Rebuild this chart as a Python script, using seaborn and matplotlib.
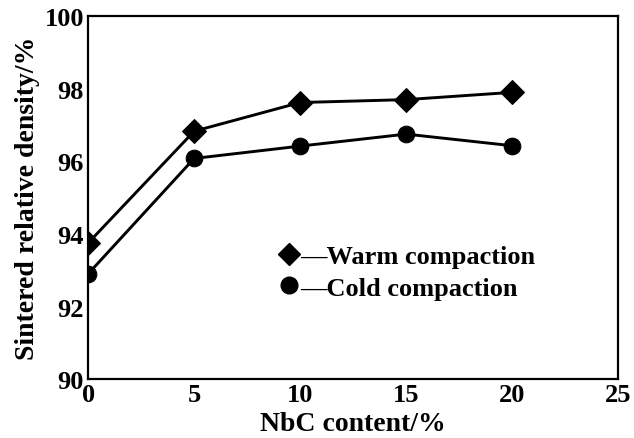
import matplotlib
matplotlib.use("Agg")
import matplotlib.pyplot as plt
import seaborn as sns
import pandas as pd
from matplotlib.lines import Line2D

nbc_content = [0, 5, 10, 15, 20]
warm_density = [93.75, 96.83, 97.62, 97.7, 97.9]
cold_density = [92.9, 96.08, 96.42, 96.75, 96.43]
x_ticks = [0, 5, 10, 15, 20, 25]
y_ticks = [90, 92, 94, 96, 98, 100]

sns.set_theme(style="white")
plt.rcParams['font.family'] = ['Liberation Serif', 'DejaVu Serif']
plt.rcParams['text.color'] = 'black'

df = pd.DataFrame({
    "x": nbc_content * 2,
    "y": warm_density + cold_density,
    "s": ["Warm compaction"] * 5 + ["Cold compaction"] * 5,
})

fig = plt.figure(figsize=(6.34, 4.39), dpi=100)
ax = fig.add_axes([0.139, 0.134, 0.836, 0.827])

sns.lineplot(data=df, x="x", y="y", hue="s", style="s",
             markers={"Warm compaction": "D", "Cold compaction": "o"},
             dashes=False, palette={"Warm compaction": "black", "Cold compaction": "black"},
             linewidth=2.1, markersize=12, markeredgecolor="black", ax=ax, legend=False)

ax.set_xlim(0, 25)
ax.set_ylim(90, 100)
ax.set_xticks(x_ticks)
ax.set_yticks(y_ticks)
ax.tick_params(direction="in", length=5, width=1.2, labelsize=19, colors="black", pad=3)
for lab in ax.get_xticklabels() + ax.get_yticklabels():
    lab.set_fontweight("bold")
for sp in ax.spines.values():
    sp.set_color("black")
    sp.set_linewidth(1.6)

ax.set_xlabel("NbC content/%", fontsize=20, fontweight="bold", color="black", labelpad=3)
ax.set_ylabel("Sintered relative density/%", fontsize=20, fontweight="bold", color="black", labelpad=3)

handles = [Line2D([], [], marker="D", color="black", linestyle="none", markersize=11),
           Line2D([], [], marker="o", color="black", linestyle="none", markersize=12)]
leg = ax.legend(handles, ["\u2014Warm compaction", "\u2014Cold compaction"], loc="center left",
                bbox_to_anchor=(0.335, 0.295), frameon=False, handlelength=0.8,
                handletextpad=0.0, labelspacing=0.3, borderpad=0,
                prop={"size": 19, "weight": "bold"})
for t in leg.get_texts():
    t.set_color("black")

fig.savefig("out.png", dpi=100)
